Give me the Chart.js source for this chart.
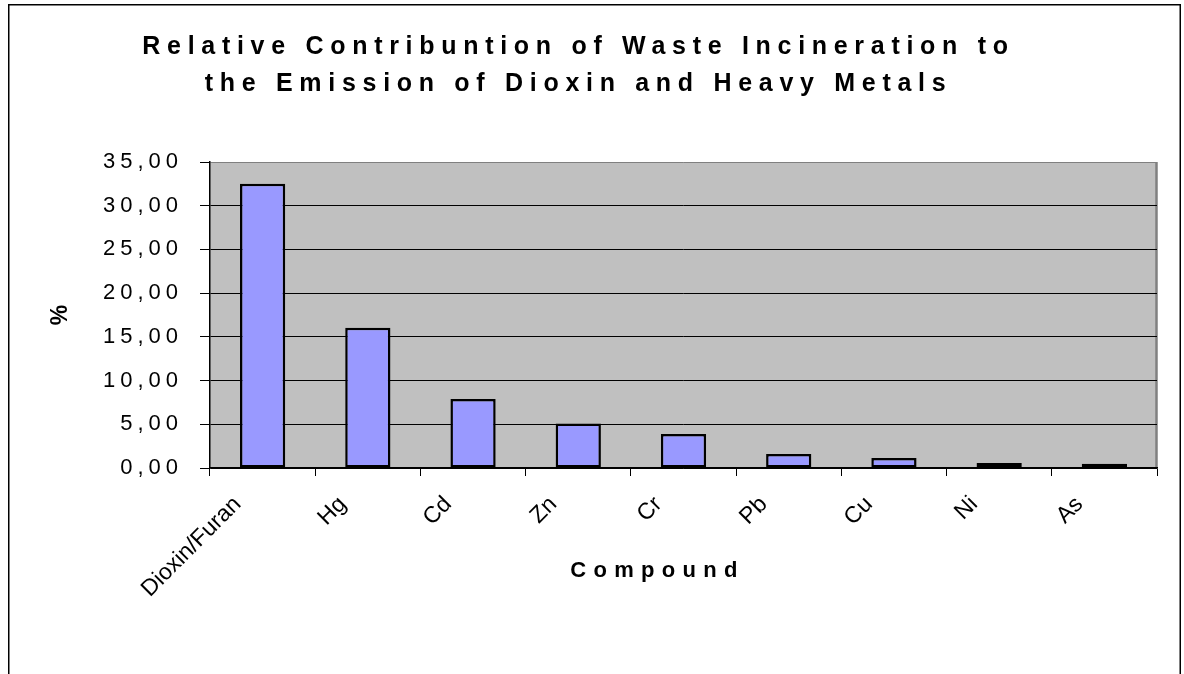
<!DOCTYPE html>
<html>
<head>
<meta charset="utf-8">
<script src="https://cdn.jsdelivr.net/npm/chart.js@4/dist/chart.umd.min.js"></script>
<style>
  html, body { margin: 0; padding: 0; background: #ffffff; }
  #wrap { width: 1184px; height: 674px; position: relative; }
</style>
</head>
<body>
<div id="wrap"><canvas id="c" width="1184" height="674"></canvas></div>
<script>
const categories = ['Dioxin/Furan', 'Hg', 'Cd', 'Zn', 'Cr', 'Pb', 'Cu', 'Ni', 'As'];
const percentValues = [32.5, 16.05, 7.9, 5.1, 3.9, 1.6, 1.14, 0.56, 0.48];
const titleLines = ['Relative Contribuntion of Waste Incineration to', 'the Emission of Dioxin and Heavy Metals'];
const yAxisTitle = '%';
const xAxisTitle = 'Compound';
const yMin = 0, yMax = 35, yStep = 5;

const FONT = "'Liberation Sans', Arial, sans-serif";

function withSpacing(fn, spacing, dx) {
  return function() {
    const ctx = this.ctx || this.chart.ctx;
    ctx.save();
    ctx.letterSpacing = spacing;
    if (dx) ctx.translate(dx, 0);
    const r = fn.apply(this, arguments);
    ctx.restore();
    return r;
  };
}

const decorPlugin = {
  id: 'decor',
  beforeDraw(chart) {
    const ctx = chart.ctx;
    const a = chart.chartArea;
    ctx.save();
    ctx.fillStyle = '#ffffff';
    ctx.fillRect(0, 0, chart.width, chart.height);
    // outer frame
    ctx.strokeStyle = '#000000';
    ctx.lineWidth = 1.5;
    ctx.strokeRect(8.75, 4.75, 1171.5, 720);
    // plot background
    ctx.fillStyle = '#C0C0C0';
    ctx.fillRect(a.left, a.top, a.right - a.left, a.bottom - a.top);
    // right border of plot
    ctx.strokeStyle = '#808080';
    ctx.lineWidth = 2.5;
    ctx.beginPath();
    ctx.moveTo(a.right - 0.5, a.top);
    ctx.lineTo(a.right - 0.5, a.bottom);
    ctx.stroke();
    ctx.restore();

    if (!chart._spacingPatched) {
      chart._spacingPatched = true;
      if (chart.titleBlock) chart.titleBlock.draw = withSpacing(chart.titleBlock.draw, '6.7px');
      const y = chart.scales.y, x = chart.scales.x;
      y.drawLabels = withSpacing(y.drawLabels, '5px');
      y.drawTitle = withSpacing(y.drawTitle, '0px');
      x.drawTitle = withSpacing(x.drawTitle, '7.3px', -26);
    }
  }
};

const chart = new Chart(document.getElementById('c'), {
  type: 'bar',
  data: {
    labels: categories,
    datasets: [{
      data: percentValues,
      backgroundColor: '#9999FF',
      borderColor: '#000000',
      borderWidth: 2.5,
      borderSkipped: false,
      barPercentage: 0.43,
      categoryPercentage: 1.0
    }]
  },
  options: {
    responsive: false,
    animation: false,
    devicePixelRatio: 1,
    layout: { padding: { left: 0, right: 27, top: 0, bottom: 0 } },
    plugins: {
      legend: { display: false },
      tooltip: { enabled: false },
      title: {
        display: true,
        text: titleLines,
        color: '#000000',
        font: { family: FONT, size: 25, weight: 'bold', lineHeight: 1.48 },
        padding: { top: 29, bottom: 59 }
      }
    },
    scales: {
      x: {
        grid: {
          display: true,
          offset: true,
          drawOnChartArea: false,
          drawTicks: true,
          tickLength: 8,
          tickColor: '#000000',
          tickWidth: 1
        },
        border: { display: true, color: '#000000', width: 1.5 },
        ticks: {
          color: '#000000',
          font: { family: FONT, size: 23 },
          minRotation: 45,
          maxRotation: 45,
          padding: 15,
          labelOffset: -25,
          autoSkip: false
        },
        title: {
          display: true,
          text: xAxisTitle,
          color: '#000000',
          font: { family: FONT, size: 22, weight: 'bold', lineHeight: 1.2 },
          padding: { top: 0, bottom: 90 }
        },
        afterFit(scale) { scale.height = 206; }
      },
      y: {
        min: yMin,
        max: yMax,
        grid: {
          color: (c) => (c.tick && c.tick.value === yMax) ? '#808080' : '#000000',
          lineWidth: 1,
          drawTicks: true,
          tickLength: 10,
          tickColor: '#000000'
        },
        border: { display: true, color: '#000000', width: 1.5 },
        ticks: {
          stepSize: yStep,
          color: '#000000',
          font: { family: FONT, size: 22 },
          padding: 17,
          callback: (v) => Number(v).toFixed(2).replace('.', ',')
        },
        title: {
          display: true,
          text: yAxisTitle,
          color: '#000000',
          font: { family: FONT, size: 23, weight: 'bold', lineHeight: 1.2 },
          padding: { top: 47, bottom: 0 }
        },
        afterFit(scale) { scale.width = 210; }
      }
    }
  },
  plugins: [decorPlugin]
});
chart.draw();
</script>
</body>
</html>
